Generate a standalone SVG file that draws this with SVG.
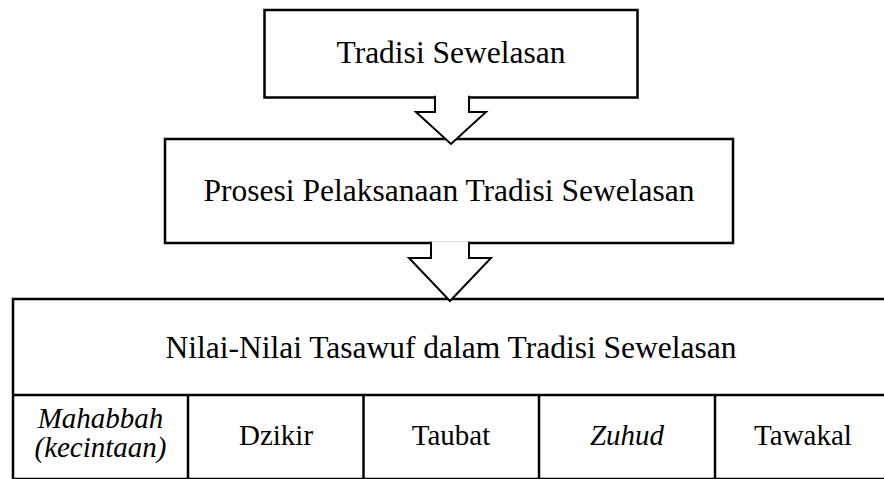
<svg xmlns="http://www.w3.org/2000/svg" width="884" height="479" viewBox="0 0 884 479">
<style>
.box{fill:#fff;stroke:#000;stroke-width:2.5}
.ln{fill:none;stroke:#000;stroke-width:2.5}
.arrfill{fill:#fff;stroke:none}
.arr{fill:none;stroke:#000;stroke-width:2;stroke-linejoin:miter}
.t{fill:#000;text-anchor:middle;font-family:"Liberation Serif","Times New Roman",Times,Tinos,"Noto Serif","Nimbus Roman","Nimbus Roman No9 L",FreeSerif,"DejaVu Serif",serif}
.big{font-size:31.5px}
.cell{font-size:29px}
.it{font-style:italic}
</style>
<g id="node-tradisi">
<rect class="box" x="264.5" y="10" width="373" height="87.5"/>
<text class="t big" x="451" y="63">Tradisi Sewelasan</text>
</g>
<g id="node-prosesi">
<rect class="box" x="165" y="139" width="568" height="104"/>
<text class="t big" x="449" y="201">Prosesi Pelaksanaan Tradisi Sewelasan</text>
</g>
<g id="node-nilai">
<rect class="box" x="13" y="299" width="878" height="180"/>
<line class="ln" x1="13" y1="395" x2="891" y2="395"/>
<text class="t big" x="451" y="358">Nilai-Nilai Tasawuf dalam Tradisi Sewelasan</text>
</g>
<g id="node-mahabbah">
<line class="ln" x1="188" y1="395" x2="188" y2="479"/>
<text class="t cell it" x="100.5" y="428">Mahabbah</text>
<text class="t cell it" x="100.5" y="457">(kecintaan)</text>
</g>
<g id="node-dzikir">
<line class="ln" x1="363.5" y1="395" x2="363.5" y2="479"/>
<text class="t cell" x="276" y="445">Dzikir</text>
</g>
<g id="node-taubat">
<line class="ln" x1="539" y1="395" x2="539" y2="479"/>
<text class="t cell" x="451" y="445">Taubat</text>
</g>
<g id="node-zuhud">
<line class="ln" x1="715" y1="395" x2="715" y2="479"/>
<text class="t cell it" x="627" y="445">Zuhud</text>
</g>
<g id="node-tawakal">
<text class="t cell" x="803" y="445">Tawakal</text>
</g>
<g id="connectors">
<polygon class="arrfill" points="435,95.5 435,112 416,112 451,144 486,112 469,112 469,95.5"/>
<polyline class="arr" points="435,95.8 435,112 416,112 451,144 486,112 469,112 469,95.8"/>
<polygon class="arrfill" points="431,241.5 431,258 409,258 450,301 491,258 469,258 469,241.5"/>
<polyline class="arr" points="431,241.8 431,258 409,258 450,301 491,258 469,258 469,241.8"/>
</g>
</svg>
